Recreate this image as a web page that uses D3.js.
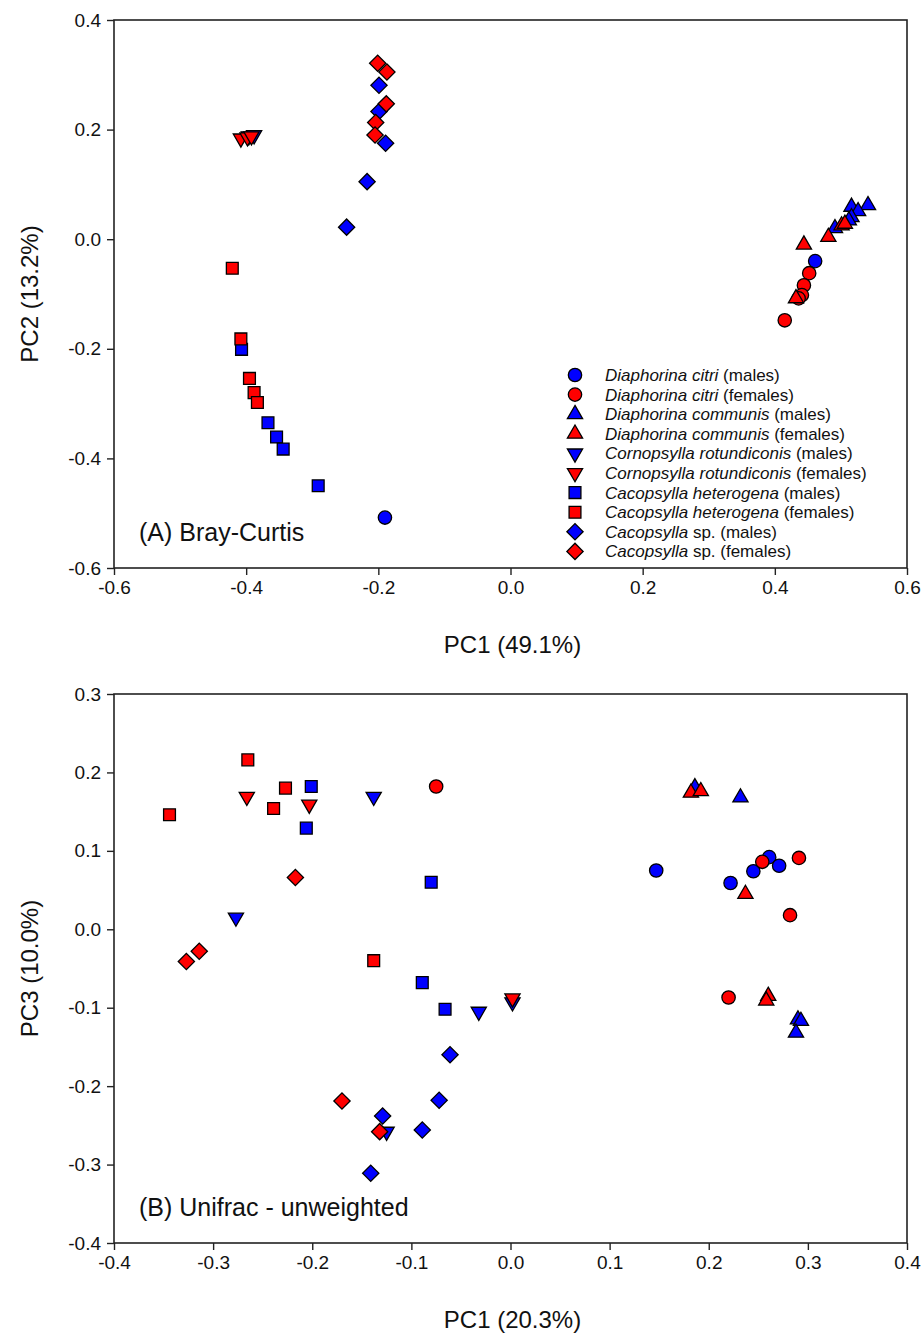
<!DOCTYPE html>
<html>
<head>
<meta charset="utf-8">
<script src="https://cdn.jsdelivr.net/npm/d3@7"></script>
<style>
  body { margin: 0; background: #fff; }
  text { font-family: "Liberation Sans", Arial, sans-serif; fill: #111; }
</style>
</head>
<body>
<script>
// legend entries, same order as the groups below
var species = ["Diaphorina citri", "Diaphorina citri", "Diaphorina communis", "Diaphorina communis",
               "Cornopsylla rotundiconis", "Cornopsylla rotundiconis", "Cacopsylla heterogena", "Cacopsylla heterogena",
               "Cacopsylla", "Cacopsylla"];
var speciesSuffix = ["", "", "", "", "", "", "", "", " sp.", " sp."];
var sexes = ["males", "females", "males", "females", "males", "females", "males", "females", "males", "females"];
var shapes = ["circle", "circle", "up", "up", "down", "down", "square", "square", "diamond", "diamond"];

// (A) Bray-Curtis : [PC1, PC2]
var citriM_A = [[0.461, -0.040], [-0.190, -0.508]];
var citriF_A = [[0.452, -0.062], [0.444, -0.084], [0.441, -0.102], [0.436, -0.108], [0.415, -0.148]];
var communisM_A = [[0.541, 0.062], [0.516, 0.059], [0.526, 0.051], [0.516, 0.040], [0.512, 0.034], [0.491, 0.020]];
var communisF_A = [[0.501, 0.025], [0.506, 0.028], [0.481, 0.004], [0.444, -0.010], [0.432, -0.108]];
var cornoM_A = [[-0.396, 0.188], [-0.388, 0.190]];
var cornoF_A = [[-0.408, 0.184], [-0.398, 0.186], [-0.392, 0.188]];
var heteroM_A = [[-0.407, -0.201], [-0.367, -0.335], [-0.354, -0.361], [-0.344, -0.383], [-0.291, -0.450]];
var heteroF_A = [[-0.421, -0.053], [-0.408, -0.182], [-0.395, -0.254], [-0.388, -0.280], [-0.383, -0.298]];
var spM_A = [[-0.199, 0.281], [-0.199, 0.233], [-0.189, 0.175], [-0.217, 0.105], [-0.248, 0.022]];
var spF_A = [[-0.201, 0.321], [-0.187, 0.305], [-0.188, 0.247], [-0.204, 0.213], [-0.205, 0.190]];

// (B) Unifrac - unweighted : [PC1, PC3]
var citriM_B = [[0.147, 0.075], [0.222, 0.059], [0.245, 0.074], [0.261, 0.092], [0.271, 0.081]];
var citriF_B = [[-0.075, 0.182], [0.254, 0.086], [0.291, 0.091], [0.282, 0.018], [0.220, -0.087]];
var communisM_B = [[0.186, 0.181], [0.232, 0.168], [0.290, -0.115], [0.293, -0.117], [0.288, -0.132]];
var communisF_B = [[0.182, 0.174], [0.192, 0.176], [0.237, 0.045], [0.260, -0.085], [0.258, -0.091]];
var cornoM_B = [[-0.138, 0.169], [-0.277, 0.015], [-0.032, -0.105], [0.002, -0.093], [-0.125, -0.258]];
var cornoF_B = [[-0.266, 0.169], [-0.203, 0.159], [0.002, -0.088]];
var heteroM_B = [[-0.201, 0.182], [-0.206, 0.129], [-0.080, 0.060], [-0.089, -0.068], [-0.066, -0.102]];
var heteroF_B = [[-0.265, 0.216], [-0.227, 0.180], [-0.239, 0.154], [-0.344, 0.146], [-0.138, -0.040]];
var spM_B = [[-0.061, -0.160], [-0.072, -0.218], [-0.129, -0.238], [-0.089, -0.256], [-0.141, -0.311]];
var spF_B = [[-0.217, 0.066], [-0.314, -0.028], [-0.327, -0.041], [-0.170, -0.219], [-0.132, -0.258]];

var groupsA = [citriM_A, citriF_A, communisM_A, communisF_A, cornoM_A, cornoF_A, heteroM_A, heteroF_A, spM_A, spF_A];
var groupsB = [citriM_B, citriF_B, communisM_B, communisF_B, cornoM_B, cornoF_B, heteroM_B, heteroF_B, spM_B, spF_B];

var ticksA_x = [-0.6, -0.4, -0.2, 0.0, 0.2, 0.4, 0.6];
var ticksA_y = [-0.6, -0.4, -0.2, 0.0, 0.2, 0.4];
var ticksB_x = [-0.4, -0.3, -0.2, -0.1, 0.0, 0.1, 0.2, 0.3, 0.4];
var ticksB_y = [-0.4, -0.3, -0.2, -0.1, 0.0, 0.1, 0.2, 0.3];

var W = 924, H = 1333;
var svg = d3.select("body").append("svg")
    .attr("width", W)
    .attr("height", H);

function colorOf(i) { return i % 2 == 0 ? "#0000ff" : "#ff0000"; }

function symbolPath(shape) {
    if (shape == "circle") return d3.symbol().type(d3.symbolCircle).size(140)();
    if (shape == "square") return d3.symbol().type(d3.symbolSquare).size(140)();
    if (shape == "diamond") return d3.symbol().type(d3.symbolSquare).size(132)();
    return d3.symbol().type(d3.symbolTriangle).size(100)();
}
function symbolRotate(shape) {
    if (shape == "diamond") return 45;
    if (shape == "down") return 180;
    return 0;
}

function drawMarker(g, shape, i, cx, cy) {
    g.append("path")
        .attr("d", symbolPath(shape))
        .attr("transform", "translate(" + cx + "," + cy + ") rotate(" + symbolRotate(shape) + ")")
        .attr("fill", colorOf(i))
        .attr("stroke", "#000")
        .attr("stroke-width", 1.3);
}

function panel(opt) {
    var x = d3.scaleLinear().domain(opt.xd).range([opt.left, opt.right]);
    var y = d3.scaleLinear().domain(opt.yd).range([opt.bottom, opt.top]);
    var g = svg.append("g");

    // frame
    g.append("rect")
        .attr("x", opt.left).attr("y", opt.top)
        .attr("width", opt.right - opt.left).attr("height", opt.bottom - opt.top)
        .attr("fill", "none").attr("stroke", "#222").attr("stroke-width", 1.6);

    var xAxis = d3.axisBottom(x).tickValues(opt.xt).tickSize(7).tickPadding(6)
        .tickFormat(d3.format(".1f"));
    var yAxis = d3.axisLeft(y).tickValues(opt.yt).tickSize(7).tickPadding(6)
        .tickFormat(d3.format(".1f"));

    var gx = g.append("g").attr("transform", "translate(0," + opt.bottom + ")").call(xAxis);
    var gy = g.append("g").attr("transform", "translate(" + opt.left + ",0)").call(yAxis);
    [gx, gy].forEach(function(a) {
        a.select(".domain").remove();
        a.selectAll("line").attr("stroke", "#222").attr("stroke-width", 1.4);
        a.selectAll("text").style("font-size", "19px").attr("fill", "#111")
            .style("font-family", "'Liberation Sans', Arial, sans-serif")
            .text(function(d) { return d3.format(".1f")(d).replace("−", "-"); });
    });

    g.append("text")
        .attr("x", (opt.left + opt.right) / 2 + 2)
        .attr("y", opt.bottom + 85)
        .attr("text-anchor", "middle")
        .style("font-size", "24px")
        .text(opt.xlabel);
    g.append("text")
        .attr("transform", "translate(" + 38 + "," + ((opt.top + opt.bottom) / 2) + ") rotate(-90)")
        .attr("text-anchor", "middle")
        .style("font-size", "24px")
        .text(opt.ylabel);

    g.append("text")
        .attr("x", opt.left + 25)
        .attr("y", opt.bottom - 27)
        .style("font-size", "25px")
        .text(opt.title);

    opt.groups.forEach(function(pts, i) {
        pts.forEach(function(p) {
            drawMarker(g, shapes[i], i, x(p[0]), y(p[1]));
        });
    });
    return g;
}

var gA = panel({
    left: 114, right: 907, top: 20, bottom: 568,
    xd: [-0.6, 0.6], yd: [-0.6, 0.4], xt: ticksA_x, yt: ticksA_y,
    xlabel: "PC1 (49.1%)", ylabel: "PC2 (13.2%)", title: "(A) Bray-Curtis",
    groups: groupsA
});

panel({
    left: 114, right: 907, top: 694, bottom: 1243,
    xd: [-0.4, 0.4], yd: [-0.4, 0.3], xt: ticksB_x, yt: ticksB_y,
    xlabel: "PC1 (20.3%)", ylabel: "PC3 (10.0%)", title: "(B) Unifrac - unweighted",
    groups: groupsB
});

// legend in panel A
var leg = gA.append("g");
species.forEach(function(s, i) {
    var ly = 375 + i * 19.6;
    drawMarker(leg, shapes[i], i, 575, ly);
    var t = leg.append("text")
        .attr("x", 605)
        .attr("y", ly + 6)
        .style("font-size", "17px");
    t.append("tspan").style("font-style", "italic").text(s);
    t.append("tspan").text(speciesSuffix[i] + " (" + sexes[i] + ")");
});
</script>
</body>
</html>
